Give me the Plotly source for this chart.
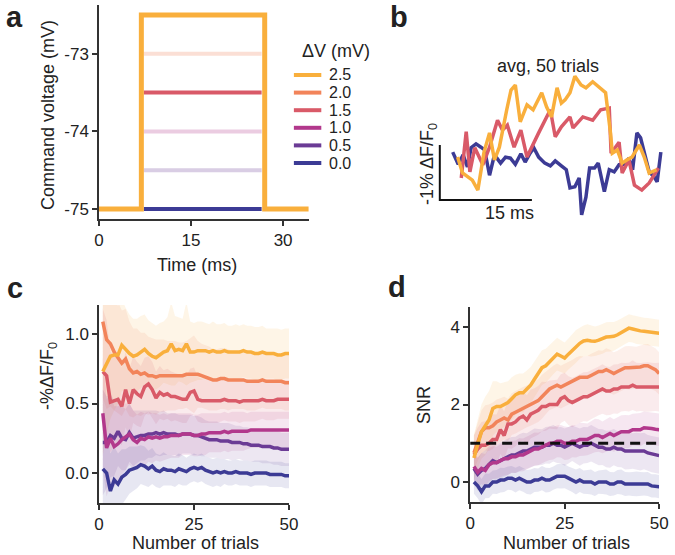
import plotly.graph_objects as go

W, H = 675, 555
FONT = "Arial, Liberation Sans, sans-serif"
INK = "#222222"
AXC = "#333333"

# ---- shared series info (Delta V in mV) ----
dv_levels = [2.5, 2.0, 1.5, 1.0, 0.5, 0.0]
dv_labels = ["2.5", "2.0", "1.5", "1.0", "0.5", "0.0"]
colors = ["#F9AF3C", "#F2845A", "#D95A68", "#B2388C", "#6B3B95", "#3C3B95"]
faded_in_a = [False, True, False, True, True, False]

# ---- panel a: command voltage steps ----
v_hold = -75
t_on, t_off, t_end = 6.9, 27.0, 34.3
t_seg = [7.3, 26.5]
a_yticks = [-75, -74, -73]
a_yticklabels = ["-75", "-74", "-73"]
a_xticks = [0, 15, 30]

# ---- panel b: averaged traces (-dF/F0, %) ----
t_b_00 = [2.1, 3.0, 3.8, 4.5, 5.1, 5.9, 6.7, 7.3, 8.1, 8.9, 9.9, 10.7, 11.5, 12.3, 13.2,
          13.9, 14.7, 15.3, 16.1, 17.1, 18.0, 18.8, 19.8, 20.6, 21.2, 22.0, 22.7, 23.1,
          23.8, 24.4, 25.2, 25.8, 26.8, 27.6, 28.4, 29.2, 30.1, 30.8, 31.4, 32.1, 32.7,
          33.3, 34.1, 34.9, 35.4, 36.0]
v_b_00 = [0.87, 0.65, 0.82, 0.60, 0.95, 1.02, 0.96, 0.91, 0.45, 0.82, 0.67, 0.78, 0.76,
          0.65, 0.84, 0.69, 0.85, 0.95, 0.78, 0.67, 0.62, 0.71, 0.62, 0.55, 0.22, 0.24,
          0.40, -0.27, 0.05, 0.58, 0.58, 0.67, 0.15, 0.55, 0.51, 0.64, 0.65, 0.76, 0.55,
          1.22, 1.13, 0.87, 0.51, 0.42, 0.33, 0.87]
t_b_25 = [2.9, 3.7, 5.3, 6.2, 7.2, 8.1, 8.9, 9.7, 10.9, 11.6, 12.3, 13.1, 14.2, 15.2,
          16.6, 17.4, 18.2, 19.1, 19.8, 20.4, 21.2, 22.0, 23.0, 23.8, 24.9, 26.0, 27.0,
          27.8, 28.1, 28.9, 29.7, 30.5, 31.3, 32.5, 33.3, 34.1, 35.3]
v_b_25 = [0.78, 0.49, 0.36, 0.18, 0.87, 1.22, 0.73, 0.96, 1.64, 2.00, 2.09, 1.42, 1.73,
          1.64, 1.95, 1.69, 1.51, 2.04, 1.76, 1.82, 1.95, 2.25, 2.09, 2.04, 2.15, 2.04,
          1.95, 1.22, 0.85, 0.91, 0.67, 0.73, 0.78, 1.00, 0.78, 0.49, 0.55]
t_b_15 = [3.5, 4.3, 4.9, 5.7, 7.0, 8.1, 9.4, 10.2, 11.0, 12.1, 13.2, 14.2, 16.1, 18.0,
          18.8, 19.8, 21.2, 21.7, 23.3, 24.9, 26.2, 27.6, 27.9, 29.2, 29.7, 30.8, 31.7,
          32.9, 34.1, 35.6]
v_b_15 = [0.40, 1.24, 0.51, 0.95, 0.64, 0.96, 1.45, 1.27, 1.36, 0.96, 1.27, 0.78, 1.22,
          1.64, 1.15, 1.33, 1.51, 1.31, 1.51, 1.45, 1.64, 1.67, 0.85, 1.05, 0.49, 0.73,
          0.27, 0.18, 0.31, 0.58]
scale_ms = 15
scale_pct = 1

# ---- panel c: amplitude vs number of trials ----
n_trials = list(range(1, 51))
c_mean = {
    2.5: [0.73, 0.78, 0.84, 0.85, 0.85, 0.92, 0.89, 0.86, 0.84, 0.85, 0.87, 0.89, 0.86, 0.84,
          0.83, 0.85, 0.87, 0.88, 0.93, 0.88, 0.89, 0.88, 0.93, 0.87, 0.87, 0.88, 0.88, 0.88,
          0.87, 0.88, 0.87, 0.87, 0.88, 0.87, 0.87, 0.87, 0.87, 0.88, 0.87, 0.87, 0.86, 0.86,
          0.87, 0.86, 0.86, 0.86, 0.85, 0.85, 0.86, 0.86],
    2.0: [1.09, 0.96, 0.93, 0.87, 0.83, 0.79, 0.82, 0.75, 0.72, 0.73, 0.71, 0.72, 0.70, 0.70,
          0.69, 0.70, 0.70, 0.70, 0.70, 0.70, 0.70, 0.70, 0.71, 0.71, 0.71, 0.71, 0.70, 0.69,
          0.68, 0.67, 0.67, 0.68, 0.68, 0.67, 0.67, 0.67, 0.67, 0.67, 0.66, 0.66, 0.66, 0.66,
          0.67, 0.66, 0.66, 0.66, 0.66, 0.66, 0.65, 0.65],
    1.5: [0.73, 0.70, 0.51, 0.52, 0.53, 0.48, 0.60, 0.50, 0.60, 0.57, 0.55, 0.62, 0.64, 0.60,
          0.54, 0.58, 0.56, 0.57, 0.55, 0.55, 0.54, 0.53, 0.53, 0.58, 0.59, 0.53, 0.52, 0.52,
          0.52, 0.52, 0.52, 0.52, 0.53, 0.52, 0.52, 0.52, 0.51, 0.52, 0.52, 0.52, 0.52, 0.52,
          0.53, 0.52, 0.52, 0.52, 0.53, 0.53, 0.53, 0.53],
    1.0: [0.43, 0.18, 0.25, 0.19, 0.21, 0.24, 0.26, 0.28, 0.24, 0.22, 0.25, 0.24, 0.26, 0.25,
          0.26, 0.25, 0.26, 0.26, 0.27, 0.27, 0.27, 0.28, 0.28, 0.28, 0.27, 0.27, 0.28, 0.28,
          0.29, 0.29, 0.29, 0.29, 0.30, 0.29, 0.30, 0.30, 0.30, 0.30, 0.30, 0.31, 0.31, 0.31,
          0.31, 0.31, 0.31, 0.31, 0.31, 0.31, 0.31, 0.31],
    0.5: [0.22, 0.22, 0.27, 0.25, 0.30, 0.25, 0.24, 0.29, 0.25, 0.26, 0.27, 0.27, 0.28, 0.28,
          0.29, 0.28, 0.29, 0.28, 0.28, 0.28, 0.27, 0.28, 0.28, 0.28, 0.27, 0.27, 0.26, 0.25,
          0.24, 0.24, 0.24, 0.23, 0.23, 0.23, 0.22, 0.22, 0.22, 0.21, 0.21, 0.20, 0.20, 0.20,
          0.19, 0.19, 0.19, 0.18, 0.18, 0.17, 0.17, 0.17],
    0.0: [0.03, 0.00, -0.13, -0.05, -0.08, -0.03, -0.01, 0.02, 0.03, 0.04, 0.06, 0.05, 0.03,
          0.05, 0.02, 0.01, 0.03, 0.02, 0.02, 0.01, 0.03, 0.02, 0.01, 0.03, 0.04, 0.03, 0.04,
          0.02, 0.01, 0.00, 0.01, 0.00, 0.01, 0.00, 0.00, 0.01, 0.00, 0.00, 0.00, -0.01, 0.00,
          0.00, 0.00, 0.00, -0.01, -0.01, -0.01, -0.01, -0.02, -0.02],
}
c_err = {
    2.5: [0.60, 0.50, 0.45, 0.40, 0.35, 0.33, 0.30, 0.28, 0.27, 0.26, 0.26, 0.25, 0.24, 0.24,
          0.23, 0.23, 0.22, 0.24, 0.30, 0.25, 0.23, 0.23, 0.30, 0.22, 0.21, 0.21, 0.21, 0.20,
          0.20, 0.21, 0.20, 0.20, 0.20, 0.19, 0.19, 0.20, 0.19, 0.19, 0.19, 0.19, 0.19, 0.19,
          0.19, 0.18, 0.18, 0.18, 0.19, 0.18, 0.18, 0.18],
    2.0: [0.55, 0.50, 0.45, 0.42, 0.40, 0.38, 0.36, 0.34, 0.32, 0.31, 0.30, 0.29, 0.28, 0.27,
          0.27, 0.26, 0.26, 0.25, 0.25, 0.25, 0.24, 0.24, 0.24, 0.26, 0.28, 0.24, 0.23, 0.23,
          0.23, 0.22, 0.22, 0.22, 0.22, 0.22, 0.21, 0.21, 0.21, 0.21, 0.21, 0.21, 0.21, 0.20,
          0.20, 0.20, 0.20, 0.20, 0.20, 0.20, 0.20, 0.20],
    1.5: [0.45, 0.40, 0.36, 0.33, 0.30, 0.28, 0.27, 0.25, 0.24, 0.23, 0.22, 0.21, 0.20, 0.20,
          0.19, 0.19, 0.18, 0.18, 0.18, 0.17, 0.17, 0.17, 0.17, 0.17, 0.17, 0.16, 0.16, 0.16,
          0.16, 0.16, 0.16, 0.15, 0.15, 0.15, 0.15, 0.15, 0.15, 0.15, 0.15, 0.15, 0.15, 0.14,
          0.14, 0.14, 0.14, 0.14, 0.14, 0.14, 0.14, 0.14],
    1.0: [0.40, 0.35, 0.32, 0.29, 0.27, 0.25, 0.24, 0.22, 0.21, 0.20, 0.19, 0.19, 0.18, 0.18,
          0.17, 0.17, 0.17, 0.16, 0.16, 0.16, 0.16, 0.15, 0.15, 0.15, 0.15, 0.15, 0.15, 0.15,
          0.14, 0.14, 0.14, 0.14, 0.14, 0.14, 0.14, 0.14, 0.14, 0.14, 0.13, 0.13, 0.13, 0.13,
          0.13, 0.13, 0.13, 0.13, 0.13, 0.13, 0.13, 0.13],
    0.5: [0.38, 0.33, 0.30, 0.27, 0.25, 0.23, 0.22, 0.21, 0.20, 0.19, 0.18, 0.18, 0.17, 0.17,
          0.16, 0.16, 0.16, 0.15, 0.15, 0.15, 0.15, 0.14, 0.14, 0.14, 0.14, 0.14, 0.14, 0.13,
          0.13, 0.13, 0.13, 0.13, 0.13, 0.13, 0.13, 0.12, 0.12, 0.12, 0.12, 0.12, 0.12, 0.12,
          0.12, 0.12, 0.12, 0.12, 0.12, 0.12, 0.12, 0.12],
    0.0: [0.35, 0.30, 0.27, 0.24, 0.22, 0.20, 0.18, 0.17, 0.16, 0.15, 0.14, 0.14, 0.13, 0.13,
          0.12, 0.12, 0.12, 0.11, 0.11, 0.11, 0.11, 0.11, 0.10, 0.10, 0.10, 0.10, 0.10, 0.10,
          0.10, 0.10, 0.10, 0.10, 0.09, 0.09, 0.09, 0.09, 0.09, 0.09, 0.09, 0.09, 0.09, 0.09,
          0.09, 0.09, 0.09, 0.09, 0.09, 0.09, 0.09, 0.09],
}

# ---- panel d: SNR vs number of trials ----
d_mean = {
    2.5: [0.62, 1.00, 1.30, 1.45, 1.60, 1.90, 1.95, 1.95, 2.00, 2.05, 2.15, 2.25, 2.30, 2.30,
          2.40, 2.50, 2.65, 2.80, 2.95, 3.00, 3.10, 3.20, 3.30, 3.25, 3.20, 3.30, 3.40, 3.50,
          3.58, 3.64, 3.66, 3.64, 3.63, 3.66, 3.70, 3.74, 3.75, 3.76, 3.80, 3.86, 3.92, 3.97,
          3.95, 3.92, 3.90, 3.89, 3.88, 3.87, 3.85, 3.84],
    2.0: [0.75, 1.05, 1.30, 1.40, 1.40, 1.45, 1.55, 1.60, 1.65, 1.60, 1.75, 1.80, 1.85, 1.90,
          1.95, 2.00, 2.05, 2.10, 2.20, 2.30, 2.40, 2.45, 2.50, 2.45, 2.50, 2.55, 2.60, 2.65,
          2.70, 2.70, 2.70, 2.75, 2.80, 2.85, 2.85, 2.90, 2.85, 2.80, 2.85, 2.90, 2.95, 2.95,
          2.95, 2.95, 2.97, 3.00, 3.00, 2.95, 2.90, 2.80],
    1.5: [0.70, 0.85, 0.95, 0.95, 1.00, 1.10, 1.10, 1.35, 1.20, 1.50, 1.50, 1.55, 1.65, 1.70,
          1.60, 1.75, 1.80, 1.85, 1.95, 1.95, 2.00, 2.00, 2.00, 2.15, 2.20, 2.10, 2.05, 2.10,
          2.15, 2.20, 2.20, 2.25, 2.30, 2.35, 2.40, 2.35, 2.35, 2.40, 2.40, 2.45, 2.45, 2.45,
          2.50, 2.45, 2.45, 2.45, 2.45, 2.45, 2.45, 2.45],
    1.0: [0.40, 0.25, 0.35, 0.30, 0.45, 0.50, 0.50, 0.55, 0.60, 0.60, 0.65, 0.65, 0.70, 0.70,
          0.75, 0.80, 0.85, 0.85, 0.90, 0.95, 1.00, 1.00, 1.05, 1.05, 1.00, 1.00, 1.05, 1.05,
          1.10, 1.10, 1.10, 1.15, 1.20, 1.20, 1.15, 1.20, 1.25, 1.20, 1.25, 1.30, 1.30, 1.30,
          1.35, 1.35, 1.35, 1.40, 1.40, 1.38, 1.36, 1.35],
    0.5: [0.35, 0.20, 0.30, 0.35, 0.45, 0.55, 0.50, 0.55, 0.60, 0.65, 0.70, 0.70, 0.75, 0.80,
          0.80, 0.85, 0.90, 0.90, 0.90, 0.95, 0.95, 1.00, 0.95, 0.95, 0.90, 0.95, 1.00, 0.95,
          0.90, 0.95, 0.95, 1.00, 0.95, 0.90, 0.90, 0.85, 0.85, 0.90, 0.85, 0.85, 0.80, 0.80,
          0.80, 0.80, 0.78, 0.80, 0.75, 0.72, 0.70, 0.68],
    0.0: [0.00, -0.10, -0.25, -0.10, -0.10, 0.00, 0.00, 0.05, 0.05, 0.10, 0.10, 0.05, 0.10,
          0.05, 0.00, 0.00, 0.05, 0.05, 0.10, 0.05, 0.05, 0.10, 0.15, 0.15, 0.15, 0.10, 0.05,
          0.00, 0.05, 0.00, 0.00, 0.00, -0.05, 0.00, 0.00, 0.00, -0.05, -0.05, 0.00, 0.00,
          -0.05, -0.05, -0.05, -0.05, -0.05, -0.05, -0.05, -0.10, -0.10, -0.12],
}
d_err = {
    2.5: [0.60, 0.65, 0.70, 0.75, 0.75, 0.70, 0.65, 0.60, 0.58, 0.55, 0.55, 0.52, 0.50, 0.50,
          0.48, 0.47, 0.46, 0.45, 0.45, 0.44, 0.43, 0.42, 0.42, 0.41, 0.40, 0.40, 0.40, 0.42,
          0.40, 0.40, 0.41, 0.40, 0.38, 0.38, 0.39, 0.38, 0.38, 0.37, 0.37, 0.36, 0.36, 0.36,
          0.35, 0.36, 0.35, 0.35, 0.35, 0.35, 0.35, 0.35],
    2.0: [0.45, 0.50, 0.55, 0.58, 0.60, 0.60, 0.58, 0.56, 0.55, 0.55, 0.54, 0.55, 0.56, 0.55,
          0.54, 0.55, 0.56, 0.55, 0.57, 0.55, 0.54, 0.55, 0.56, 0.55, 0.55, 0.54, 0.55, 0.56,
          0.55, 0.54, 0.55, 0.56, 0.55, 0.55, 0.54, 0.55, 0.56, 0.55, 0.54, 0.55, 0.55, 0.56,
          0.55, 0.54, 0.55, 0.55, 0.56, 0.55, 0.55, 0.55],
    1.5: [0.50, 0.55, 0.60, 0.62, 0.64, 0.65, 0.64, 0.63, 0.62, 0.63, 0.64, 0.63, 0.62, 0.63,
          0.64, 0.63, 0.62, 0.63, 0.64, 0.63, 0.62, 0.63, 0.64, 0.63, 0.62, 0.63, 0.64, 0.63,
          0.62, 0.63, 0.64, 0.63, 0.62, 0.63, 0.64, 0.63, 0.62, 0.63, 0.64, 0.63, 0.62, 0.63,
          0.64, 0.63, 0.62, 0.63, 0.64, 0.63, 0.62, 0.63],
    1.0: [0.35, 0.38, 0.40, 0.42, 0.43, 0.42, 0.41, 0.42, 0.43, 0.42, 0.41, 0.42, 0.43, 0.42,
          0.41, 0.42, 0.43, 0.42, 0.41, 0.42, 0.43, 0.42, 0.41, 0.42, 0.43, 0.42, 0.41, 0.42,
          0.43, 0.42, 0.41, 0.42, 0.43, 0.42, 0.41, 0.42, 0.43, 0.42, 0.41, 0.42, 0.43, 0.42,
          0.41, 0.42, 0.43, 0.42, 0.41, 0.42, 0.42, 0.42],
    0.5: [0.40, 0.42, 0.45, 0.47, 0.48, 0.47, 0.46, 0.47, 0.48, 0.47, 0.46, 0.47, 0.48, 0.47,
          0.46, 0.47, 0.48, 0.47, 0.46, 0.47, 0.48, 0.47, 0.46, 0.47, 0.48, 0.47, 0.46, 0.47,
          0.48, 0.47, 0.46, 0.47, 0.48, 0.47, 0.46, 0.47, 0.48, 0.47, 0.46, 0.47, 0.48, 0.47,
          0.46, 0.47, 0.48, 0.47, 0.46, 0.47, 0.47, 0.47],
    0.0: [0.30, 0.32, 0.33, 0.32, 0.31, 0.30, 0.31, 0.32, 0.31, 0.30, 0.31, 0.32, 0.31, 0.30,
          0.31, 0.32, 0.31, 0.30, 0.31, 0.32, 0.31, 0.30, 0.31, 0.32, 0.31, 0.30, 0.31, 0.32,
          0.31, 0.30, 0.31, 0.32, 0.31, 0.30, 0.31, 0.32, 0.31, 0.30, 0.31, 0.32, 0.31, 0.30,
          0.31, 0.32, 0.31, 0.30, 0.31, 0.30, 0.30, 0.30],
}
snr_threshold = 1


def rgba(hex_color, a):
    h = hex_color.lstrip("#")
    r, g, b = int(h[0:2], 16), int(h[2:4], 16), int(h[4:6], 16)
    return f"rgba({r},{g},{b},{a})"


def px(x, y):
    return x / W, 1 - y / H


fig = go.Figure()

# panel a
for lvl, col, fade in zip(dv_levels, colors, faded_in_a):
    if lvl == dv_levels[0]:
        continue
    fig.add_trace(go.Scatter(x=t_seg, y=[v_hold + lvl] * 2, mode="lines",
                             line=dict(color=col, width=4), opacity=0.25 if fade else 1,
                             xaxis="x", yaxis="y", showlegend=False, hoverinfo="skip"))
top = v_hold + dv_levels[0]
fig.add_trace(go.Scatter(x=[0, t_on, t_on, t_off, t_off, t_end],
                         y=[v_hold, v_hold, top, top, v_hold, v_hold], mode="lines",
                         line=dict(color=colors[0], width=5), xaxis="x", yaxis="y",
                         showlegend=False))

# panel b
for t, v, col in [(t_b_00, v_b_00, colors[5]), (t_b_15, v_b_15, colors[2]),
                  (t_b_25, v_b_25, colors[0])]:
    fig.add_trace(go.Scatter(x=t, y=v, mode="lines", line=dict(color=col, width=3.5),
                             xaxis="x2", yaxis="y2", showlegend=False))
fig.add_trace(go.Scatter(x=[0, 0, scale_ms], y=[scale_pct, 0, 0], mode="lines",
                         line=dict(color="#111111", width=2), xaxis="x2", yaxis="y2",
                         showlegend=False))

# panels c and d
for means, errs, xa, ya in [(c_mean, c_err, "x3", "y3"), (d_mean, d_err, "x4", "y4")]:
    for lvl, col in zip(dv_levels, colors):
        m, e = means[lvl], errs[lvl]
        up = [a + b for a, b in zip(m, e)]
        lo = [a - b for a, b in zip(m, e)]
        fig.add_trace(go.Scatter(x=n_trials + n_trials[::-1], y=up + lo[::-1],
                                 fill="toself", fillcolor=rgba(col, 0.12), mode="lines",
                                 line=dict(width=0), xaxis=xa, yaxis=ya,
                                 showlegend=False, hoverinfo="skip"))
    for lvl, col in list(zip(dv_levels, colors))[::-1]:
        fig.add_trace(go.Scatter(x=n_trials, y=means[lvl], mode="lines",
                                 line=dict(color=col, width=3.5), xaxis=xa, yaxis=ya,
                                 showlegend=False))
fig.add_trace(go.Scatter(x=[0, n_trials[-1]], y=[snr_threshold] * 2, mode="lines",
                         line=dict(color="#111111", width=3, dash="10px,6px"),
                         xaxis="x4", yaxis="y4", showlegend=False))

axis = dict(showline=True, linecolor=AXC, linewidth=1.5, ticks="outside", ticklen=5,
            tickwidth=1.5, tickcolor=AXC, showgrid=False, zeroline=False,
            tickfont=dict(size=17, color=INK, family=FONT))

fig.update_layout(
    width=W, height=H, margin=dict(l=0, r=0, t=0, b=0),
    paper_bgcolor="white", plot_bgcolor="white", showlegend=False,
    font=dict(family=FONT, size=17, color=INK),
    xaxis=dict(axis, domain=[96 / W, 310 / W], range=[0, 34.15], tickvals=a_xticks,
               anchor="y"),
    yaxis=dict(axis, domain=[1 - 219 / H, 1 - 5 / H], range=[-75.13, -72.37],
               tickvals=a_yticks, ticktext=a_yticklabels, anchor="x"),
    xaxis2=dict(domain=[440 / W, 1], range=[-0.64, 36.84], visible=False, anchor="y2"),
    yaxis2=dict(domain=[1 - 220 / H, 1 - 60 / H], range=[-0.364, 2.545], visible=False,
                anchor="x2"),
    xaxis3=dict(axis, domain=[96 / W, 290 / W], range=[0, 50], tickvals=[0, 25, 50],
                anchor="y3"),
    yaxis3=dict(axis, domain=[1 - 503 / H, 1 - 305 / H], range=[-0.216, 1.209],
                tickvals=[0, 0.5, 1.0], tickformat=".1f", anchor="x3"),
    xaxis4=dict(axis, domain=[475 / W, 668 / W], range=[0, 50], tickvals=[0, 25, 50],
                anchor="y4"),
    yaxis4=dict(axis, domain=[1 - 502 / H, 1 - 307 / H], range=[-0.516, 4.516],
                tickvals=[0, 2, 4], anchor="x4"),
)

ann = []


def text(s, x, y, size=17, angle=0, xanchor="center", bold=False):
    xx, yy = px(x, y)
    ann.append(dict(text=f"<b>{s}</b>" if bold else s, x=xx, y=yy, xref="paper",
                    yref="paper", showarrow=False, textangle=angle, xanchor=xanchor,
                    yanchor="middle", font=dict(size=size, color=INK, family=FONT)))


text("a", 10, 17, size=29, bold=True)
text("b", 402, 17, size=29, bold=True)
text("c", 10, 288, size=29, bold=True)
text("d", 400, 287, size=29, bold=True)
text("Command voltage (mV)", 44, 115, size=18, angle=-90)
text("Time (ms)", 196, 265, size=18)
text("-%ΔF/F<sub>0</sub>", 44, 376, size=18, angle=-90)
text("Number of trials", 195, 543, size=18)
text("SNR", 428, 405, size=18, angle=-90)
text("Number of trials", 573, 543, size=18)
text("avg, 50 trials", 555, 66, size=18)
text("15 ms", 515, 213, size=18)
text("-1% ΔF/F<sub>0</sub>", 432, 164, size=18, angle=-90)

# legend for Delta V
text("ΔV (mV)", 338, 51, size=18)
shapes = []
for i, (lab, col) in enumerate(zip(dv_labels, colors)):
    y = 75 + i * 17.6
    x0, y0 = px(295, y)
    x1, _ = px(323, y)
    shapes.append(dict(type="line", xref="paper", yref="paper", x0=x0, x1=x1, y0=y0,
                       y1=y0, line=dict(color=col, width=4)))
    text(lab, 329, y, size=16, xanchor="left")

fig.update_layout(annotations=ann, shapes=shapes)
fig.write_html("out.html", config={"displayModeBar": False},
               post_script="document.body.style.margin='0';"
                           "document.body.style.overflow='hidden';")
